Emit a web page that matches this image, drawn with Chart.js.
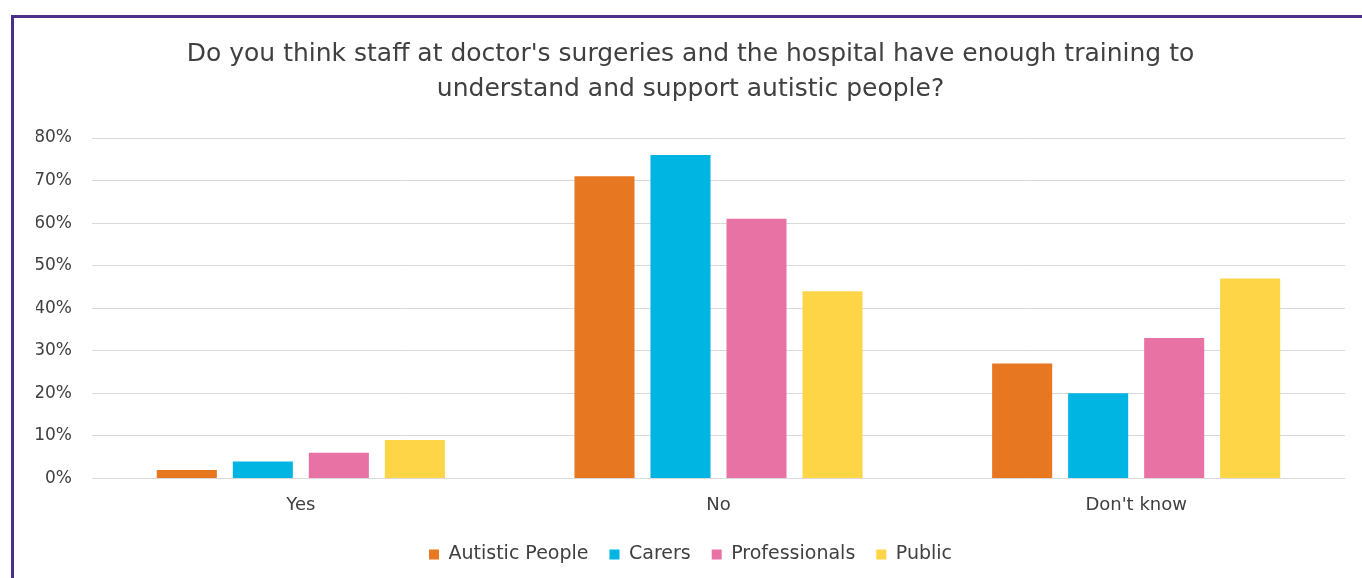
<!DOCTYPE html>
<html>
<head>
<meta charset="utf-8">
<script src="https://cdn.jsdelivr.net/npm/chart.js@4.4.1/dist/chart.umd.min.js"></script>
<style>
  body { margin: 0; background: #fff; overflow: hidden; }
  #wrap { position: relative; width: 1362px; height: 578px; }
  #frame { position: absolute; left: 11px; top: 15px; width: 1400px; height: 700px;
           border: 3px solid #4b2e8a; box-sizing: border-box; pointer-events: none; }
  canvas { position: absolute; left: 0; top: 0; }
</style>
</head>
<body>
<div id="wrap">
  <canvas id="chart" width="1362" height="578"></canvas>
  <div id="frame"></div>
</div>
<script>
// answers on the x axis
const categories = ['Yes', 'No', "Don't know"];

// share of each group (%)
const autisticPeople = [2, 71, 27];
const carers = [4, 76, 20];
const professionals = [6, 61, 33];
const publicGroup = [9, 44, 47];

const yTicks = [0, 10, 20, 30, 40, 50, 60, 70, 80];

const FONT = "'DejaVu Sans', sans-serif";
const TEXT = '#404040';

const ctx = document.getElementById('chart').getContext('2d');
new Chart(ctx, {
  type: 'bar',
  data: {
    labels: categories,
    datasets: [
      { label: 'Autistic People', data: autisticPeople, backgroundColor: '#e87722' },
      { label: 'Carers', data: carers, backgroundColor: '#00b5e2' },
      { label: 'Professionals', data: professionals, backgroundColor: '#e772a3' },
      { label: 'Public', data: publicGroup, backgroundColor: '#fdd546' },
    ],
  },
  options: {
    responsive: false,
    animation: false,
    // left padding keeps title and legend centred on the frame, like the original
    layout: { padding: { left: 36, right: 17, top: 37, bottom: 4 } },
    datasets: { bar: { barPercentage: 0.79, categoryPercentage: 0.728 } },
    plugins: {
      title: {
        display: true,
        text: ["Do you think staff at doctor's surgeries and the hospital have enough training to",
               'understand and support autistic people?'],
        color: TEXT,
        font: { family: FONT, size: 25, weight: 'normal', lineHeight: 1.4 },
        padding: { top: 0, bottom: 31 },
      },
      legend: {
        position: 'bottom',
        labels: {
          color: TEXT,
          font: { family: FONT, size: 19 },
          boxWidth: 10,
          boxHeight: 10,
          padding: 21,
        },
      },
      tooltip: { enabled: false },
    },
    scales: {
      x: {
        grid: { display: false },
        border: { display: false },
        ticks: { color: TEXT, font: { family: FONT, size: 18 }, padding: 8 },
      },
      y: {
        min: 0,
        max: 80,
        afterBuildTicks: (scale) => { scale.ticks = yTicks.map(v => ({ value: v })); },
        afterFit: (scale) => { scale.width = 56; },
        grid: { color: '#d9d9d9', drawTicks: false },
        border: { display: false },
        ticks: {
          color: TEXT,
          font: { family: FONT, size: 17 },
          padding: 20,
          callback: (v) => v + '%',
        },
      },
    },
  },
});
</script>
</body>
</html>
